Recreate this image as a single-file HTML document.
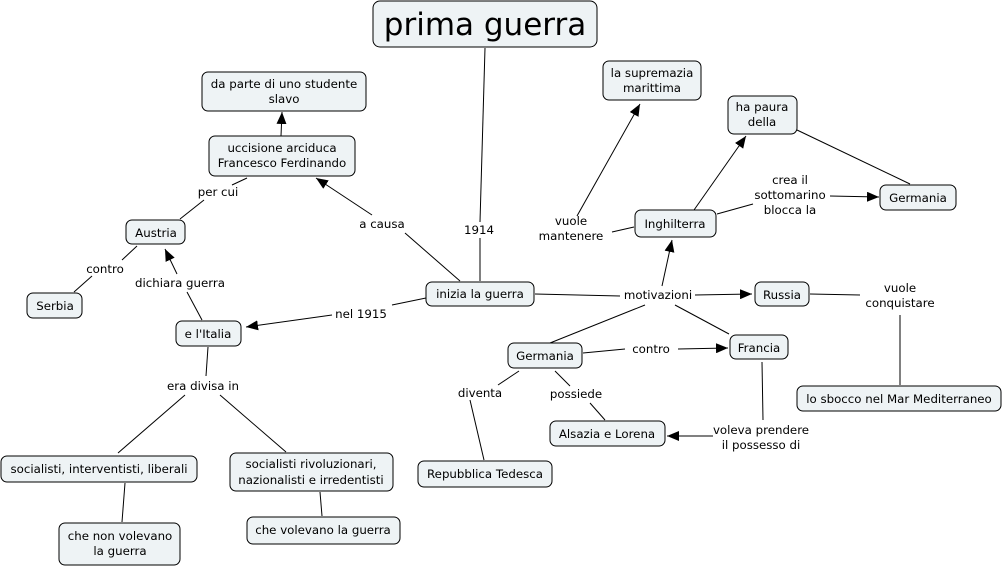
<!DOCTYPE html>
<html><head><meta charset="utf-8"><style>
body{margin:0;background:#fff}
svg text{font-family:"DejaVu Sans","Liberation Sans",sans-serif;font-size:11.8px;fill:#000;text-anchor:middle}
rect{fill:#eef3f5;stroke:#000;stroke-width:1}
line{stroke:#000;stroke-width:1}
</style></head><body>
<svg width="1003" height="568" viewBox="0 0 1003 568" xmlns="http://www.w3.org/2000/svg">
<defs><marker id="a" viewBox="0 0 12 10" refX="12" refY="5" markerWidth="12" markerHeight="10" markerUnits="userSpaceOnUse" orient="auto"><path d="M0,0L12,5L0,10z" fill="#000"/></marker></defs>
<line x1="485" y1="48" x2="480" y2="222"/>
<line x1="480" y1="238" x2="480" y2="281"/>
<line x1="460" y1="281" x2="405" y2="233"/>
<line x1="372" y1="215" x2="316" y2="178" marker-end="url(#a)"/>
<line x1="281" y1="136" x2="282" y2="112" marker-end="url(#a)"/>
<line x1="247" y1="178" x2="232" y2="185"/>
<line x1="204" y1="200" x2="180" y2="219"/>
<line x1="137" y1="246" x2="122" y2="260"/>
<line x1="92" y1="276" x2="74" y2="292"/>
<line x1="202" y1="320" x2="187" y2="292"/>
<line x1="177" y1="274" x2="165" y2="249" marker-end="url(#a)"/>
<line x1="426" y1="298" x2="392" y2="305"/>
<line x1="332" y1="315" x2="246" y2="327" marker-end="url(#a)"/>
<line x1="208" y1="347" x2="206" y2="376"/>
<line x1="185" y1="395" x2="118" y2="453"/>
<line x1="220" y1="395" x2="286" y2="452"/>
<line x1="125" y1="483" x2="122" y2="522"/>
<line x1="320" y1="492" x2="322" y2="516"/>
<line x1="535" y1="294" x2="620" y2="296"/>
<line x1="695" y1="295" x2="752" y2="294" marker-end="url(#a)"/>
<line x1="662" y1="286" x2="672" y2="240" marker-end="url(#a)"/>
<line x1="645" y1="305" x2="550" y2="343"/>
<line x1="675" y1="305" x2="729" y2="334"/>
<line x1="583" y1="353" x2="625" y2="349"/>
<line x1="678" y1="349" x2="728" y2="348" marker-end="url(#a)"/>
<line x1="612" y1="232" x2="634" y2="227"/>
<line x1="577" y1="216" x2="640" y2="104" marker-end="url(#a)"/>
<line x1="694" y1="210" x2="746" y2="136" marker-end="url(#a)"/>
<line x1="717" y1="214" x2="753" y2="204"/>
<line x1="830" y1="196" x2="879" y2="197" marker-end="url(#a)"/>
<line x1="797" y1="130" x2="910" y2="184"/>
<line x1="810" y1="294" x2="860" y2="295"/>
<line x1="900" y1="315" x2="900" y2="385"/>
<line x1="762" y1="362" x2="763" y2="420"/>
<line x1="713" y1="436" x2="667" y2="436" marker-end="url(#a)"/>
<line x1="519" y1="371" x2="498" y2="385"/>
<line x1="555" y1="371" x2="570" y2="386"/>
<line x1="590" y1="403" x2="605" y2="420"/>
<line x1="470" y1="400" x2="484" y2="460"/>
<rect x="373" y="1" width="224" height="46" rx="7"/>
<text x="485" y="35" style="font-size:31px">prima guerra</text>
<rect x="202" y="72" width="164" height="39" rx="6"/><text x="284" y="88">da parte di uno studente</text><text x="284" y="103">slavo</text>
<rect x="209" y="136" width="146" height="40" rx="6"/><text x="282" y="152">uccisione arciduca</text><text x="282" y="167">Francesco Ferdinando</text>
<rect x="126" y="220" width="59" height="24" rx="6"/><text x="156" y="237">Austria</text>
<rect x="27" y="293" width="55" height="25" rx="6"/><text x="55" y="310">Serbia</text>
<rect x="176" y="321" width="65" height="25" rx="6"/><text x="208" y="338">e l'Italia</text>
<rect x="1" y="456" width="196" height="26" rx="6"/><text x="99" y="473">socialisti, interventisti, liberali</text>
<rect x="230" y="453" width="163" height="38" rx="6"/><text x="311" y="468">socialisti rivoluzionari,</text><text x="311" y="484">nazionalisti e irredentisti</text>
<rect x="59" y="523" width="121" height="42" rx="6"/><text x="120" y="540">che non volevano</text><text x="120" y="555">la guerra</text>
<rect x="247" y="517" width="153" height="27" rx="6"/><text x="323" y="534">che volevano la guerra</text>
<rect x="426" y="282" width="108" height="24" rx="6"/><text x="480" y="298">inizia la guerra</text>
<rect x="418" y="461" width="134" height="26" rx="6"/><text x="485" y="478">Repubblica Tedesca</text>
<rect x="508" y="343" width="74" height="25" rx="6"/><text x="545" y="360">Germania</text>
<rect x="550" y="421" width="115" height="25" rx="6"/><text x="607" y="438">Alsazia e Lorena</text>
<rect x="730" y="335" width="58" height="24" rx="6"/><text x="759" y="352">Francia</text>
<rect x="755" y="282" width="54" height="24" rx="6"/><text x="782" y="299">Russia</text>
<rect x="797" y="386" width="204" height="25" rx="6"/><text x="899" y="403">lo sbocco nel Mar Mediterraneo</text>
<rect x="635" y="210" width="81" height="27" rx="6"/><text x="675" y="228">Inghilterra</text>
<rect x="880" y="185" width="76" height="25" rx="6"/><text x="918" y="202">Germania</text>
<rect x="728" y="96" width="69" height="38" rx="6"/><text x="762" y="111">ha paura</text><text x="762" y="126">della</text>
<rect x="603" y="61" width="98" height="39" rx="6"/><text x="652" y="77">la supremazia</text><text x="652" y="92">marittima</text>
<text x="479" y="234">1914</text>
<text x="382" y="228">a causa</text>
<text x="218" y="196">per cui</text>
<text x="105" y="273">contro</text>
<text x="180" y="287">dichiara guerra</text>
<text x="361" y="318">nel 1915</text>
<text x="203" y="390">era divisa in</text>
<text x="658" y="299">motivazioni</text>
<text x="571" y="225">vuole</text><text x="571" y="240">mantenere</text>
<text x="790" y="184">crea il</text><text x="790" y="199">sottomarino</text><text x="790" y="214">blocca la</text>
<text x="651" y="353">contro</text>
<text x="480" y="397">diventa</text>
<text x="576" y="398">possiede</text>
<text x="761" y="434">voleva prendere</text><text x="761" y="449">il possesso di</text>
<text x="900" y="292">vuole</text><text x="900" y="307">conquistare</text>
</svg>
</body></html>
